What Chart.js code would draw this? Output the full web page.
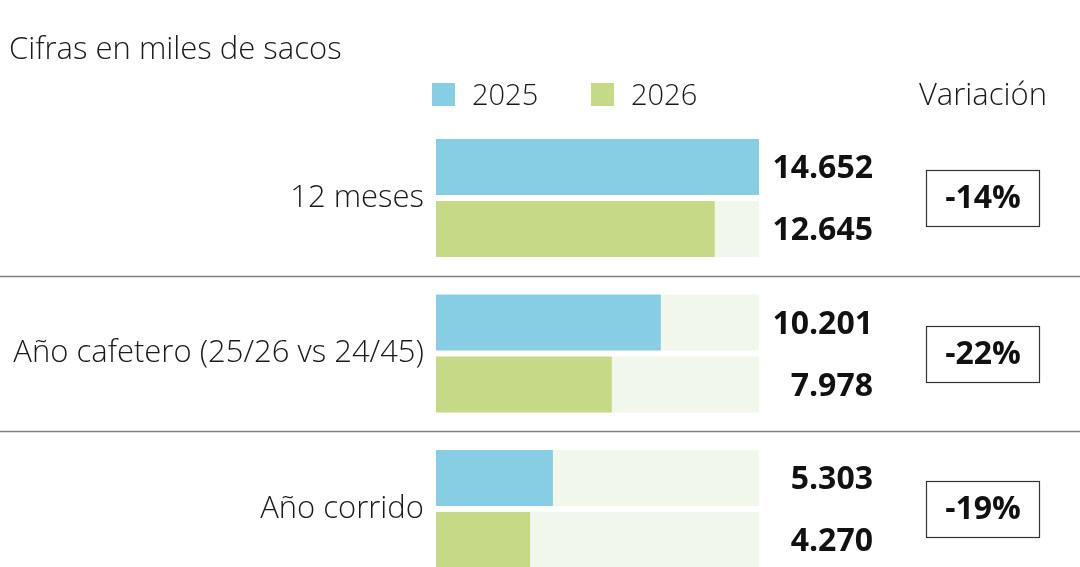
<!DOCTYPE html>
<html lang="es">
<head>
    <meta charset="UTF-8">
    <title>Cifras en miles de sacos</title>
    <script src="https://cdn.jsdelivr.net/npm/chart.js"></script>
    <style>
        :root {
            --blue: #87cee4;
            --green: #c6d986;
            --track: #f1f7ea;
            --text: #1a1a1a;
        }
        body {
            margin: 0;
            background: #ffffff;
            font-family: 'Open Sans', sans-serif;
            color: var(--text);
        }
        .wrap {
            position: relative;
            width: 1080px;
            height: 567px;
            overflow: hidden;
        }
        .wrap canvas {
            position: absolute;
            left: 0;
            top: 0;
        }
        .note, .legend span, .var-head {
            position: absolute;
            font-weight: 300;
            font-size: 29px;
            line-height: 40px;
            white-space: nowrap;
        }
        .note { left: 9px; top: 27px; font-size: 31px; }
        .legend .box {
            position: absolute;
            width: 23px;
            height: 23px;
            top: 83px;
        }
        .legend span { top: 74px; }
        .var-head { right: 33px; top: 73px; font-size: 31px; }
    </style>
</head>
<body>
    <div class="wrap">
        <canvas id="coffeeChart" width="1080" height="567"></canvas>
        <div class="note">Cifras en miles de sacos</div>
        <div class="legend">
            <div class="box" style="left:432px;background:var(--blue)"></div>
            <span style="left:472px">2025</span>
            <div class="box" style="left:591px;background:var(--green)"></div>
            <span style="left:631px">2026</span>
        </div>
        <div class="var-head">Variación</div>
    </div>
    <script>
        // datos (miles de sacos)
        const categories = ['12 meses', 'Año cafetero (25/26 vs 24/45)', 'Año corrido'];
        const values2025 = [14652, 10201, 5303];
        const values2026 = [12645, 7978, 4270];
        const variation = ['-14%', '-22%', '-19%'];

        const maxValue = Math.max(...values2025, ...values2026);
        const fmt = (v) => v.toLocaleString('de-DE');

        const boldFont = "bold 32px 'Open Sans', sans-serif";

        // etiquetas, separadores y cajas de variación
        const extras = {
            id: 'extras',
            beforeDatasetsDraw(chart) {
                const { ctx, scales: { y } } = chart;
                ctx.save();
                ctx.strokeStyle = '#808080';
                ctx.lineWidth = 1.5;
                for (let i = 0; i < categories.length - 1; i++) {
                    const py = Math.round((y.getPixelForValue(i) + y.getPixelForValue(i + 1)) / 2) + 0.5;
                    ctx.beginPath();
                    ctx.moveTo(0, py);
                    ctx.lineTo(chart.width, py);
                    ctx.stroke();
                }
                ctx.restore();
            },
            afterDatasetsDraw(chart) {
                const { ctx, chartArea, scales: { y } } = chart;
                ctx.save();
                ctx.fillStyle = '#111';
                ctx.font = boldFont;
                ctx.textAlign = 'right';
                ctx.textBaseline = 'middle';
                [0, 2].forEach((dsIndex) => {
                    const meta = chart.getDatasetMeta(dsIndex);
                    const src = dsIndex === 0 ? values2025 : values2026;
                    meta.data.forEach((bar, i) => {
                        ctx.fillText(fmt(src[i]), chartArea.right + 114, bar.y + 2);
                    });
                });
                // cajas de variación
                categories.forEach((c, i) => {
                    const cy = y.getPixelForValue(i);
                    ctx.strokeStyle = '#333';
                    ctx.lineWidth = 1.2;
                    ctx.strokeRect(926.5, Math.round(cy - 28) + 0.5, 113, 56);
                    ctx.textAlign = 'center';
                    ctx.fillText(variation[i], 983, cy + 1);
                });
                ctx.restore();
            }
        };

        const ctx = document.getElementById('coffeeChart').getContext('2d');
        new Chart(ctx, {
            type: 'bar',
            data: {
                labels: categories,
                datasets: [
                    { label: '2025', data: values2025, backgroundColor: '#87cee4', stack: 'a' },
                    { label: 'fondo 2025', data: values2025.map(v => maxValue - v), backgroundColor: '#f1f7ea', stack: 'a' },
                    { label: '2026', data: values2026, backgroundColor: '#c6d986', stack: 'b' },
                    { label: 'fondo 2026', data: values2026.map(v => maxValue - v), backgroundColor: '#f1f7ea', stack: 'b' }
                ]
            },
            options: {
                indexAxis: 'y',
                responsive: false,
                animation: false,
                events: [],
                clip: false,
                categoryPercentage: 0.797,
                barPercentage: 0.903,
                layout: {
                    padding: { left: 0, right: 321, top: 198, bottom: 58 }
                },
                scales: {
                    x: {
                        display: false,
                        stacked: true,
                        min: 0,
                        max: maxValue
                    },
                    y: {
                        offset: false,
                        grid: { display: false },
                        border: { display: false },
                        afterFit: (scale) => { scale.width = 436; },
                        ticks: {
                            padding: 4,
                            color: '#1a1a1a',
                            font: { family: "'Open Sans', sans-serif", size: 31, weight: 300 }
                        }
                    }
                },
                plugins: {
                    legend: { display: false },
                    tooltip: { enabled: false }
                }
            },
            plugins: [extras]
        });
    </script>
</body>
</html>
